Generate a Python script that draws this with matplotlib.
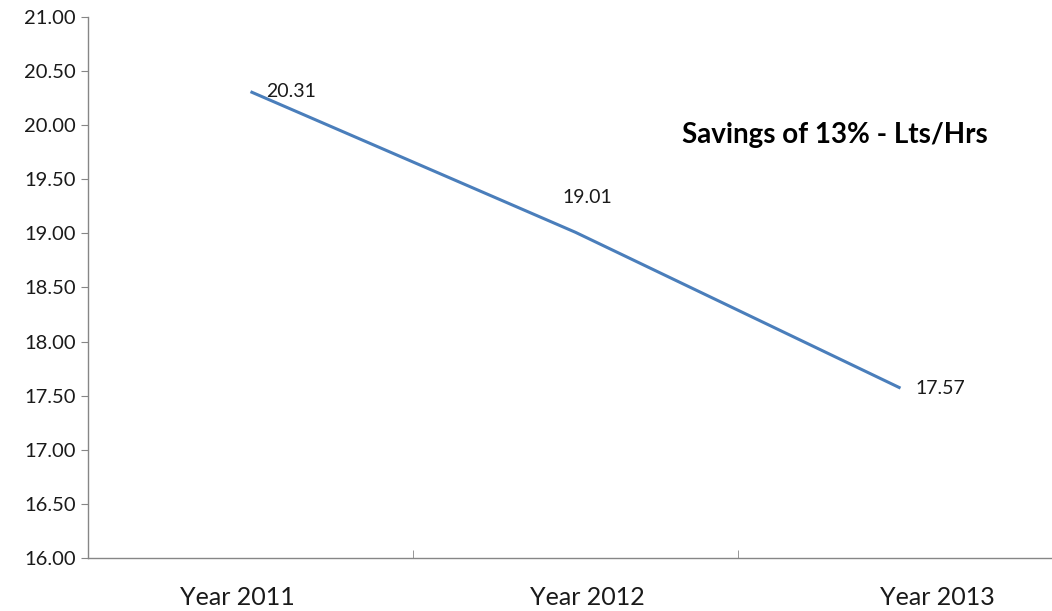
import matplotlib.pyplot as plt
from matplotlib.transforms import ScaledTranslation

years = ["Year 2011", "Year 2012", "Year 2013"]
lts_hrs = [20.31, 19.01, 17.57]
y_ticks = [16.0, 16.5, 17.0, 17.5, 18.0, 18.5, 19.0, 19.5, 20.0, 20.5, 21.0]

plt.rcParams["font.family"] = ["Lato", "DejaVu Sans"]

fig = plt.figure(figsize=(10.52, 6.11), dpi=100)
ax = fig.add_axes([88 / 1052, 53 / 611, 975 / 1052, 541 / 611])

x = list(range(len(years)))
ax.plot(x, lts_hrs, color="#4A7EBB", linewidth=2.2, solid_capstyle="butt")

# data labels
ax.annotate(f"{lts_hrs[0]:.2f}", (x[0], lts_hrs[0]), xytext=(11, 0),
            textcoords="offset points", va="center", ha="left", fontsize=14, color="#1a1a1a")
ax.annotate(f"{lts_hrs[1]:.2f}", (x[1], lts_hrs[1]), xytext=(8.6, 25),
            textcoords="offset points", va="center", ha="center", fontsize=14, color="#1a1a1a")
ax.annotate(f"{lts_hrs[2]:.2f}", (x[2], lts_hrs[2]), xytext=(11, 0),
            textcoords="offset points", va="center", ha="left", fontsize=14, color="#1a1a1a")

ax.set_xlim(-0.5, 2.5)
ax.set_ylim(16, 21)
ax.set_yticks(y_ticks)
ax.set_yticklabels([f"{v:.2f}" for v in y_ticks])
ax.set_xticks(x)
ax.set_xticklabels(years)
ax.set_xticks([0.5, 1.5], minor=True)

for s in ["top", "right"]:
    ax.spines[s].set_visible(False)
for s in ["left", "bottom"]:
    ax.spines[s].set_color("#868686")
    ax.spines[s].set_linewidth(1.0)

ax.tick_params(axis="y", length=5, color="#868686", labelsize=14.5, labelcolor="#1a1a1a", pad=4)
ax.tick_params(axis="x", which="major", length=0, labelsize=18, labelcolor="#1a1a1a", pad=20)
ax.tick_params(axis="x", which="minor", length=6, color="#868686", direction="in")

# category labels sit slightly off the category centres in the original
shifts = [-13, 12, 37]
for lbl, dx in zip(ax.get_xticklabels(), shifts):
    lbl.set_transform(lbl.get_transform() + ScaledTranslation(dx / 100, 0, fig.dpi_scale_trans))

ax.text(0.7656, 0.782, "Savings of 13% - Lts/Hrs", transform=ax.transAxes,
        fontsize=20, fontweight="bold", color="#000000", ha="center", va="center")

fig.savefig("out.png", dpi=100)
